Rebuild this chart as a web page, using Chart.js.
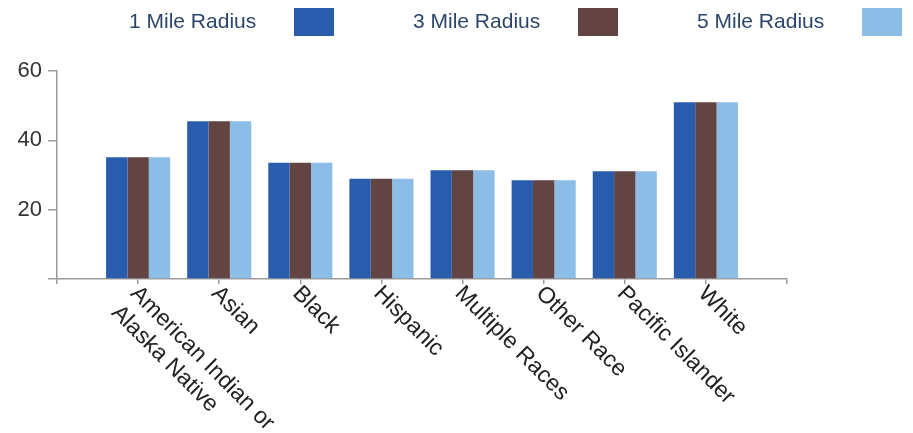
<!DOCTYPE html>
<html>
<head>
<meta charset="utf-8">
<script src="https://cdn.jsdelivr.net/npm/chart.js@4.4.0/dist/chart.umd.min.js"></script>
<style>
  body { margin: 0; background: #fff; }
</style>
</head>
<body>
<canvas id="myChart" width="913" height="433"></canvas>
<script>
var categories = [["American Indian or", "Alaska Native"], "Asian", "Black", "Hispanic", "Multiple Races", "Other Race", "Pacific Islander", "White"];
var series_names = ["1 Mile Radius", "3 Mile Radius", "5 Mile Radius"];
var mile1 = [35.1, 45.5, 33.5, 28.9, 31.4, 28.5, 31.1, 51.0];
var mile3 = [35.1, 45.5, 33.5, 28.9, 31.4, 28.5, 31.1, 51.0];
var mile5 = [35.1, 45.5, 33.5, 28.9, 31.4, 28.5, 31.1, 51.0];
var series_colors = ["#2a5cae", "#624443", "#8bbde6"];
var y_min = 0, y_max = 60, y_step = 20;

var font_family = 'Arial, "Liberation Sans", sans-serif';

// one empty slot each side so the axis runs past the first and last group
function pad(a) { return [null].concat(a, [null]); }
var labels = [""].concat(categories, [""]);

var all_series = [mile1, mile3, mile5];
var datasets = [];
for (var i = 0; i < all_series.length; i++) {
  datasets.push({
    label: series_names[i],
    data: pad(all_series[i]),
    backgroundColor: series_colors[i],
    borderWidth: 0,
    categoryPercentage: 0.79,
    barPercentage: 1.0
  });
}

var extras = {
  id: "extras",
  afterDraw: function(chart) {
    var ctx = chart.ctx;
    var xs = chart.scales.x;
    ctx.save();

    // slanted category labels, reading down to the right
    ctx.font = "23px " + font_family;
    ctx.fillStyle = "#222";
    ctx.textAlign = "left";
    ctx.textBaseline = "top";
    for (var i = 0; i < categories.length; i++) {
      var lines = [].concat(categories[i]);
      var x = xs.getPixelForValue(i + 1);
      ctx.save();
      ctx.translate(x + 4, xs.top + 3);
      ctx.rotate(Math.PI / 4);
      for (var j = 0; j < lines.length; j++) {
        ctx.fillText(lines[j], 0, j * 27);
      }
      ctx.restore();
    }

    // legend: text first, colour box after
    ctx.font = "21px " + font_family;
    ctx.textBaseline = "middle";
    var ds = chart.data.datasets;
    for (var k = 0; k < ds.length; k++) {
      var lx = 129 + k * 284;
      ctx.fillStyle = "#2c466b";
      ctx.fillText(ds[k].label, lx, 22);
      ctx.fillStyle = ds[k].backgroundColor;
      ctx.fillRect(lx + 165, 8, 40, 28);
    }
    ctx.restore();
  }
};

var ctx = document.getElementById("myChart");
var myChart = new Chart(ctx, {
  type: "bar",
  data: { labels: labels, datasets: datasets },
  options: {
    responsive: false,
    animation: false,
    layout: { padding: { left: 0, right: 126, top: 71, bottom: 0 } },
    plugins: { legend: { display: false }, tooltip: { enabled: false } },
    scales: {
      x: {
        offset: false,
        grid: { offset: false, drawOnChartArea: false, tickLength: 5, color: "#9a9a9a", lineWidth: 1.5 },
        border: { color: "#9a9a9a", width: 1.5 },
        ticks: { autoSkip: false, maxRotation: 0, callback: function() { return ""; } },
        afterFit: function(scale) { scale.height = 154; }
      },
      y: {
        min: y_min,
        max: y_max,
        grid: { drawOnChartArea: false, tickLength: 9, color: "#9a9a9a", lineWidth: 1.5 },
        border: { color: "#9a9a9a", width: 1.5 },
        ticks: {
          stepSize: y_step,
          padding: 6,
          color: "#333",
          font: { size: 22, family: font_family },
          callback: function(v) { return v === 0 ? "" : v; }
        },
        afterFit: function(scale) { scale.width = 57; }
      }
    }
  },
  plugins: [extras]
});
</script>
</body>
</html>
